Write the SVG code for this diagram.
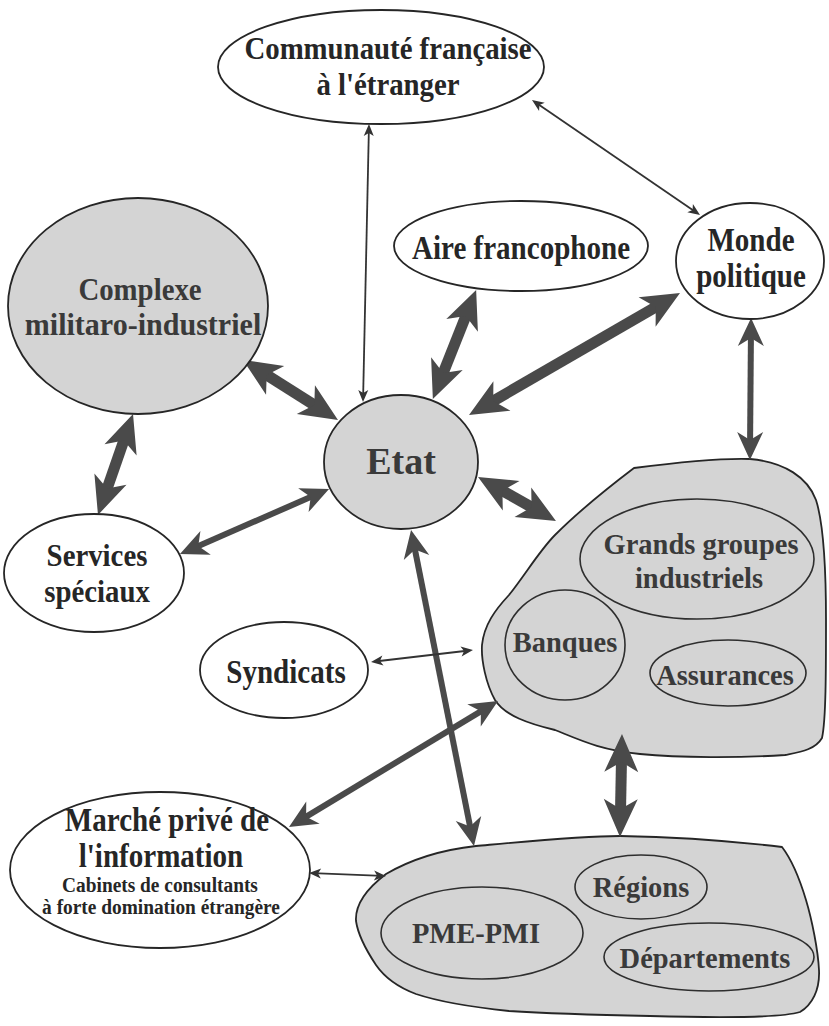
<svg xmlns="http://www.w3.org/2000/svg" width="829" height="1026" viewBox="0 0 829 1026">
<style>
.bg{fill:#ffffff}
.nw{fill:#ffffff;stroke:#262626;stroke-width:1.8}
.ng{fill:#d4d4d4;stroke:#262626;stroke-width:1.8}
.ni{fill:#d4d4d4;stroke:#2e2e2e;stroke-width:1.6}
.t{font-family:"Liberation Serif","Times New Roman",serif;font-weight:bold;text-anchor:middle;fill:#262626}
.tg{font-family:"Liberation Serif","Times New Roman",serif;font-weight:bold;text-anchor:middle;fill:#3a3a3a}
.a1{stroke:#4a4a4a;stroke-width:11;fill:none;marker-start:url(#hT);marker-end:url(#hT)}
.a2{stroke:#4a4a4a;stroke-width:6;fill:none;marker-start:url(#hM);marker-end:url(#hM)}
.a3{stroke:#333333;stroke-width:1.8;fill:none;marker-start:url(#hS);marker-end:url(#hS)}
</style>
<defs>
<marker id="hT" markerUnits="userSpaceOnUse" markerWidth="40" markerHeight="40" refX="23" refY="0" orient="auto-start-reverse" overflow="visible"><path d="M38,0 L0,-17 L10,0 L0,17 Z" fill="#4a4a4a"/></marker>
<marker id="hM" markerUnits="userSpaceOnUse" markerWidth="30" markerHeight="30" refX="19" refY="0" orient="auto-start-reverse" overflow="visible"><path d="M28,0 L0,-13 L8,0 L0,13 Z" fill="#4a4a4a"/></marker>
<marker id="hS" markerUnits="userSpaceOnUse" markerWidth="14" markerHeight="14" refX="8" refY="0" orient="auto-start-reverse" overflow="visible"><path d="M12,0 L0,-5 L3,0 L0,5 Z" fill="#333333"/></marker>
</defs>
<rect class="bg" x="0" y="0" width="829" height="1026"/>

<g id="blob-entreprises">
<path class="ng" d="M634,468 C680,462 720,458 750,459 C785,462 808,478 816,500 C824,525 826,570 826,620 C826,670 826,720 822,738 C815,750 800,752 785,755 C740,758 680,758 640,754 C600,750 580,740 555,730 C530,724 505,716 495,700 C486,684 481,660 482,645 C484,625 495,610 509,595 C525,575 540,550 555,535 C580,510 605,490 634,468 Z"/>
</g>
<g id="blob-territoires">
<path class="ng" d="M386,874 C410,860 440,850 476,846 C530,841 580,836 620,836 C680,837 740,842 782,847 C792,860 800,880 806,900 C812,920 818,950 819,970 C820,990 812,1005 800,1012 C780,1018 720,1018 650,1016 C600,1015 540,1013 509,1011 C480,1008 440,1002 416,994 C400,988 385,978 376,965 C366,950 358,935 356,921 C355,905 365,890 386,874 Z"/>
</g>

<g id="connectors">
<line class="a1" x1="255.7" y1="368" x2="325.3" y2="412"/>
<line class="a1" x1="128.1" y1="428.2" x2="102.9" y2="500.8"/>
<line class="a1" x1="470.6" y1="304" x2="438.4" y2="385"/>
<line class="a1" x1="667" y1="300.5" x2="482" y2="407.5"/>
<line class="a1" x1="491.1" y1="484.4" x2="542.9" y2="513.6"/>
<line class="a1" x1="621.7" y1="749" x2="620.3" y2="822"/>
<line class="a2" x1="188.2" y1="550.4" x2="320.8" y2="492.6"/>
<line class="a2" x1="412.8" y1="538.8" x2="472.2" y2="837.2"/>
<line class="a2" x1="296.7" y1="822.4" x2="490.3" y2="705.6"/>
<line class="a2" x1="751" y1="327" x2="750" y2="451"/>
<line class="a3" x1="368.9" y1="128" x2="363.1" y2="398"/>
<line class="a3" x1="535.3" y1="102.3" x2="696.7" y2="212.7"/>
<line class="a3" x1="375" y1="661.5" x2="469" y2="650.5"/>
<line class="a3" x1="313" y1="873.2" x2="382" y2="875.8"/>
</g>

<g id="communaute">
<ellipse class="nw" cx="381" cy="67" rx="163" ry="57"/>
<text class="t" font-size="32" transform="translate(388,59) scale(0.9,1)">Communauté française</text>
<text class="t" font-size="32" transform="translate(388,95) scale(0.9,1)">à l'étranger</text>
</g>
<g id="aire">
<ellipse class="nw" cx="521" cy="246" rx="127" ry="45"/>
<text class="t" font-size="33" transform="translate(521,259) scale(0.88,1)">Aire francophone</text>
</g>
<g id="monde">
<ellipse class="nw" cx="750" cy="261" rx="74" ry="58"/>
<text class="t" font-size="33" transform="translate(751,251) scale(0.88,1)">Monde</text>
<text class="t" font-size="33" transform="translate(751,287) scale(0.88,1)">politique</text>
</g>
<g id="complexe">
<ellipse class="ng" cx="138" cy="306" rx="130" ry="108"/>
<text class="tg" font-size="31" transform="translate(140,300) scale(0.93,1)">Complexe</text>
<text class="tg" font-size="31" transform="translate(143,335) scale(0.97,1)">militaro-industriel</text>
</g>
<g id="etat">
<ellipse class="ng" cx="401" cy="462" rx="77" ry="67"/>
<text class="tg" font-size="38" x="401" y="474">Etat</text>
</g>
<g id="services">
<ellipse class="nw" cx="94" cy="573" rx="90" ry="59"/>
<text class="t" font-size="32" transform="translate(97,566) scale(0.9,1)">Services</text>
<text class="t" font-size="32" transform="translate(97,602) scale(0.9,1)">spéciaux</text>
</g>
<g id="syndicats">
<ellipse class="nw" cx="284" cy="670" rx="84" ry="48"/>
<text class="t" font-size="33" transform="translate(286,683) scale(0.88,1)">Syndicats</text>
</g>
<g id="marche">
<ellipse class="nw" cx="160" cy="870" rx="150" ry="78"/>
<text class="t" font-size="33" transform="translate(167,831) scale(0.88,1)">Marché privé de</text>
<text class="t" font-size="33" transform="translate(161,867) scale(0.88,1)">l'information</text>
<text class="t" font-size="22" transform="translate(160,892) scale(0.88,1)">Cabinets de consultants</text>
<text class="t" font-size="22" transform="translate(161,914) scale(0.88,1)">à forte domination étrangère</text>
</g>
<g id="grands-groupes">
<ellipse class="ni" cx="697" cy="559" rx="117" ry="60"/>
<text class="tg" font-size="30" transform="translate(701,554) scale(0.95,1)">Grands groupes</text>
<text class="tg" font-size="30" transform="translate(699,588) scale(0.95,1)">industriels</text>
</g>
<g id="banques">
<ellipse class="ni" cx="565" cy="645" rx="60" ry="55"/>
<text class="tg" font-size="30" transform="translate(565,652) scale(0.95,1)">Banques</text>
</g>
<g id="assurances">
<ellipse class="ni" cx="728" cy="673" rx="78" ry="33"/>
<text class="tg" font-size="30" transform="translate(725,685) scale(0.95,1)">Assurances</text>
</g>
<g id="pme">
<ellipse class="ni" cx="482" cy="933" rx="101" ry="46"/>
<text class="tg" font-size="30" transform="translate(476,943) scale(0.95,1)">PME-PMI</text>
</g>
<g id="regions">
<ellipse class="ni" cx="641" cy="887" rx="66" ry="32"/>
<text class="tg" font-size="30" transform="translate(641,897) scale(0.95,1)">Régions</text>
</g>
<g id="departements">
<ellipse class="ni" cx="709" cy="957" rx="105" ry="34"/>
<text class="tg" font-size="30" transform="translate(705,968) scale(0.95,1)">Départements</text>
</g>
</svg>
